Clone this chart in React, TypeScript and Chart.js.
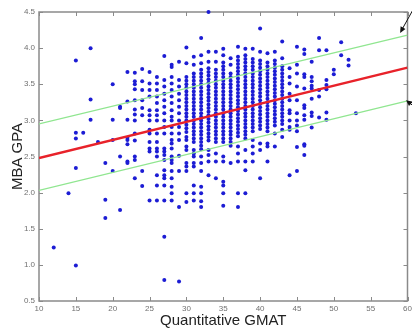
import React, { useEffect, useRef } from 'react';
import { Chart, registerables } from 'chart.js';

Chart.register(...registerables);

// Quantitative GMAT score columns and the MBA GPA values read in each column
const gmatColumns = [12, 14, 15, 16, 17, 18, 19, 20, 21, 22, 23, 24, 25, 26, 27, 28, 29, 30, 31, 32, 33, 34, 35, 36, 37, 38, 39, 40, 41, 42, 43, 44, 45, 46, 47, 48, 49, 50, 51, 52, 53];
const gpaByColumn: number[][] = [
  [1.24],
  [1.99],
  [3.83, 2.83, 2.75, 2.34, 0.99],
  [2.83],
  [4.0, 3.29, 3.01],
  [2.7],
  [2.41, 1.9, 1.65],
  [3.5, 3.01, 2.73, 2.3],
  [3.19, 3.17, 2.5, 1.76],
  [3.67, 3.26, 3.01, 2.76, 2.73, 2.67, 2.43, 2.41],
  [3.66, 3.54, 3.5, 3.43, 3.28, 3.15, 3.08, 3.0, 2.82, 2.72, 2.5, 2.45, 2.2],
  [3.71, 3.54, 3.42, 3.28, 3.17, 3.07, 2.3, 2.09],
  [3.67, 3.51, 3.42, 3.33, 3.14, 3.07, 3.0, 2.87, 2.82, 2.7, 2.61, 2.57, 1.89],
  [3.6, 3.51, 3.42, 3.33, 3.24, 3.14, 3.07, 3.0, 2.82, 2.7, 2.61, 2.57, 2.5, 2.24, 2.1, 1.89],
  [3.89, 3.56, 3.47, 3.37, 3.28, 3.19, 3.1, 3.0, 2.91, 2.82, 2.61, 2.57, 2.52, 2.45, 2.31, 2.24, 2.2, 2.1, 1.89, 1.39, 0.79],
  [3.77, 3.74, 3.6, 3.51, 3.42, 3.33, 3.24, 3.14, 3.05, 3.0, 2.91, 2.82, 2.73, 2.68, 2.61, 2.5, 2.45, 2.41, 2.3, 2.2, 2.08, 1.99, 1.89],
  [3.81, 3.56, 3.47, 3.37, 3.28, 3.19, 3.1, 3.0, 2.91, 2.82, 2.73, 2.51, 2.3, 1.8, 0.77],
  [4.01, 3.79, 3.6, 3.55, 3.5, 3.45, 3.4, 3.35, 3.3, 3.25, 3.2, 3.15, 3.1, 3.05, 3.0, 2.94, 2.89, 2.84, 2.77, 2.73, 2.64, 2.59, 2.41, 2.36, 2.3, 1.99, 1.87],
  [3.88, 3.77, 3.65, 3.6, 3.55, 3.5, 3.45, 3.4, 3.35, 3.3, 3.25, 3.2, 3.15, 3.1, 3.05, 3.0, 2.95, 2.9, 2.85, 2.8, 2.75, 2.7, 2.59, 2.54, 2.5, 2.41, 2.36, 2.1, 1.99, 1.89],
  [4.14, 3.9, 3.79, 3.7, 3.65, 3.6, 3.55, 3.5, 3.45, 3.4, 3.35, 3.3, 3.25, 3.2, 3.15, 3.1, 3.05, 3.0, 2.95, 2.9, 2.85, 2.8, 2.75, 2.7, 2.65, 2.6, 2.5, 2.41, 2.3, 2.08, 1.99, 1.88, 1.8],
  [4.5, 3.95, 3.81, 3.72, 3.67, 3.62, 3.57, 3.52, 3.47, 3.42, 3.37, 3.32, 3.27, 3.22, 3.17, 3.12, 3.07, 3.02, 2.97, 2.92, 2.87, 2.82, 2.77, 2.72, 2.59, 2.52, 2.43, 2.24],
  [3.95, 3.81, 3.7, 3.65, 3.6, 3.55, 3.5, 3.45, 3.4, 3.35, 3.3, 3.25, 3.2, 3.15, 3.1, 3.05, 3.0, 2.95, 2.9, 2.85, 2.8, 2.75, 2.7, 2.54, 2.43, 2.2],
  [3.99, 3.9, 3.8, 3.75, 3.7, 3.65, 3.6, 3.55, 3.5, 3.45, 3.4, 3.35, 3.3, 3.25, 3.2, 3.15, 3.1, 3.05, 3.0, 2.95, 2.9, 2.85, 2.8, 2.75, 2.7, 2.5, 2.43, 2.15, 2.1, 1.99, 1.82],
  [3.86, 3.77, 3.65, 3.6, 3.55, 3.5, 3.45, 3.4, 3.35, 3.3, 3.25, 3.2, 3.15, 3.1, 3.05, 3.0, 2.95, 2.9, 2.85, 2.8, 2.75, 2.7, 2.65, 2.41],
  [4.02, 3.88, 3.83, 3.78, 3.73, 3.68, 3.63, 3.58, 3.53, 3.48, 3.43, 3.38, 3.33, 3.28, 3.23, 3.18, 3.13, 3.08, 3.03, 2.98, 2.93, 2.88, 2.83, 2.78, 2.64, 2.54, 2.43, 1.99, 1.8],
  [3.99, 3.9, 3.85, 3.8, 3.75, 3.7, 3.65, 3.6, 3.55, 3.5, 3.45, 3.4, 3.35, 3.3, 3.25, 3.2, 3.15, 3.1, 3.05, 3.0, 2.95, 2.9, 2.85, 2.8, 2.75, 2.59, 2.43, 2.31, 1.99],
  [3.99, 3.85, 3.8, 3.75, 3.7, 3.65, 3.6, 3.55, 3.5, 3.45, 3.4, 3.35, 3.3, 3.25, 3.2, 3.15, 3.1, 3.05, 3.0, 2.95, 2.9, 2.85, 2.73, 2.64, 2.54, 2.43],
  [4.27, 3.95, 3.83, 3.78, 3.73, 3.68, 3.63, 3.58, 3.53, 3.48, 3.43, 3.38, 3.33, 3.28, 3.23, 3.18, 3.13, 3.08, 3.03, 2.98, 2.93, 2.88, 2.68, 2.59, 2.2],
  [3.93, 3.8, 3.75, 3.7, 3.65, 3.6, 3.55, 3.5, 3.45, 3.4, 3.35, 3.3, 3.25, 3.2, 3.15, 3.1, 3.05, 3.0, 2.95, 2.9, 2.85, 2.68, 2.64, 2.43],
  [3.95, 3.83, 3.78, 3.73, 3.68, 3.63, 3.58, 3.53, 3.48, 3.43, 3.38, 3.33, 3.28, 3.23, 3.18, 3.13, 3.08, 3.03, 2.98, 2.93, 2.82, 2.64],
  [4.09, 3.86, 3.75, 3.7, 3.65, 3.6, 3.55, 3.5, 3.45, 3.4, 3.35, 3.3, 3.25, 3.2, 3.15, 3.1, 3.05, 3.0, 2.95, 2.87, 2.77],
  [3.72, 3.6, 3.51, 3.37, 3.28, 3.14, 3.1, 3.0, 2.91, 2.87, 2.24],
  [4.02, 3.77, 3.65, 3.47, 3.28, 3.1, 3.0, 2.93, 2.85, 2.63, 2.3],
  [3.98, 3.92, 3.64, 3.6, 3.44, 3.21, 3.17, 3.07, 3.01, 2.67, 2.65, 2.52],
  [3.81, 3.6, 3.54, 3.48, 3.44, 3.3, 3.11, 3.06, 2.9],
  [4.14, 3.97, 3.42, 3.33, 3.04],
  [3.97, 3.56, 3.49, 3.43, 3.11, 3.01],
  [3.7, 3.64],
  [4.08, 3.9],
  [3.84, 3.76],
  [3.1],
];

// Regression line and prediction band end points
const lineGmat = [10, 60];
const fitGpa = [2.48, 3.73];
const upperGpa = [2.95, 4.18];
const lowerGpa = [2.03, 3.27];

const xTicks = [10, 15, 20, 25, 30, 35, 40, 45, 50, 55, 60];
const yTicks = [0.5, 1, 1.5, 2, 2.5, 3, 3.5, 4, 4.5];

const lerp = (arr: number[], g: number) =>
  arr[0] + ((arr[1] - arr[0]) * (g - lineGmat[0])) / (lineGmat[1] - lineGmat[0]);

function drawArrow(ctx: CanvasRenderingContext2D, tx: number, ty: number, fx: number, fy: number) {
  const ang = Math.atan2(ty - fy, tx - fx);
  const len = 6;
  const hw = 2.8;
  ctx.beginPath();
  ctx.moveTo(fx, fy);
  ctx.lineTo(tx - Math.cos(ang) * len * 0.8, ty - Math.sin(ang) * len * 0.8);
  ctx.stroke();
  ctx.beginPath();
  ctx.moveTo(tx, ty);
  ctx.lineTo(tx - Math.cos(ang) * len - Math.sin(ang) * hw, ty - Math.sin(ang) * len + Math.cos(ang) * hw);
  ctx.lineTo(tx - Math.cos(ang) * len + Math.sin(ang) * hw, ty - Math.sin(ang) * len - Math.cos(ang) * hw);
  ctx.closePath();
  ctx.fill();
}

const framePlugin = {
  id: 'matlabFrame',
  beforeDatasetsDraw(chart: any) {
    const { ctx, chartArea: a, scales } = chart;
    const x = scales.x;
    const y = scales.y;
    ctx.save();
    ctx.strokeStyle = '#8a8a8a';
    ctx.lineWidth = 1.5;
    ctx.strokeRect(a.left, a.top, a.right - a.left, a.bottom - a.top);
    ctx.lineWidth = 1;
    ctx.beginPath();
    for (const t of xTicks) {
      const px = Math.round(x.getPixelForValue(t)) + 0.5;
      ctx.moveTo(px, a.bottom);
      ctx.lineTo(px, a.bottom - 4);
      ctx.moveTo(px, a.top);
      ctx.lineTo(px, a.top + 4);
    }
    for (const t of yTicks) {
      const py = Math.round(y.getPixelForValue(t)) + 0.5;
      ctx.moveTo(a.left, py);
      ctx.lineTo(a.left + 4, py);
      ctx.moveTo(a.right, py);
      ctx.lineTo(a.right - 4, py);
    }
    ctx.stroke();
    ctx.restore();
  },
  afterDraw(chart: any) {
    const { ctx, scales } = chart;
    const x = scales.x;
    const y = scales.y;
    ctx.save();
    ctx.strokeStyle = '#111';
    ctx.fillStyle = '#111';
    ctx.lineWidth = 1;
    const t1x = x.getPixelForValue(59);
    const t1y = y.getPixelForValue(lerp(upperGpa, 59)) - 4;
    drawArrow(ctx, t1x, t1y, t1x + 15, t1y - 27);
    const t2x = x.getPixelForValue(59.8);
    const t2y = y.getPixelForValue(lerp(lowerGpa, 59.8)) - 1;
    drawArrow(ctx, t2x, t2y, t2x + 9, t2y + 7);
    ctx.restore();
  },
};

export default function App() {
  const ref = useRef<HTMLCanvasElement | null>(null);

  useEffect(() => {
    if (!ref.current) return;
    const points = gmatColumns.flatMap((g, i) => gpaByColumn[i].map((v) => ({ x: g, y: v })));
    const mk = (arr: number[]) => lineGmat.map((g, i) => ({ x: g, y: arr[i] }));
    const chart = new Chart(ref.current, {
      type: 'scatter',
      data: {
        datasets: [
          {
            type: 'line',
            data: mk(fitGpa),
            borderColor: '#e8222a',
            borderWidth: 2.5,
            pointRadius: 0,
            fill: false,
          } as any,
          {
            type: 'line',
            data: mk(upperGpa),
            borderColor: '#90e690',
            borderWidth: 1.3,
            pointRadius: 0,
            fill: false,
          } as any,
          {
            type: 'line',
            data: mk(lowerGpa),
            borderColor: '#90e690',
            borderWidth: 1.3,
            pointRadius: 0,
            fill: false,
          } as any,
          {
            data: points,
            backgroundColor: '#1c1cd4',
            borderWidth: 0,
            pointRadius: 2,
            clip: false,
          } as any,
        ],
      },
      options: {
        animation: false,
        responsive: false,
        events: [],
        layout: { padding: { left: 0, top: 12, right: 4.5, bottom: 0 } },
        plugins: { legend: { display: false }, tooltip: { enabled: false } },
        scales: {
          x: {
            type: 'linear',
            min: 10,
            max: 60,
            grid: { display: false, drawTicks: false },
            border: { display: false },
            afterBuildTicks: (s: any) => {
              s.ticks = xTicks.map((v) => ({ value: v }));
            },
            ticks: {
              autoSkip: false,
              maxRotation: 0,
              padding: 3,
              color: '#707070',
              font: { family: 'Liberation Sans, Arial, sans-serif', size: 8 },
            },
            title: {
              display: true,
              text: 'Quantitative GMAT',
              color: '#222',
              padding: { top: 0, bottom: 1 },
              font: { family: 'Liberation Sans, Arial, sans-serif', size: 15 },
            },
            afterFit: (s: any) => {
              s.height = 30;
              s.paddingLeft = 0;
              s.paddingRight = 0;
            },
          },
          y: {
            type: 'linear',
            min: 0.5,
            max: 4.5,
            grid: { display: false, drawTicks: false },
            border: { display: false },
            afterBuildTicks: (s: any) => {
              s.ticks = yTicks.map((v) => ({ value: v }));
            },
            ticks: {
              autoSkip: false,
              padding: 4,
              color: '#707070',
              font: { family: 'Liberation Sans, Arial, sans-serif', size: 8 },
            },
            title: {
              display: true,
              text: 'MBA GPA',
              color: '#222',
              padding: { top: 8.5, bottom: 0 },
              font: { family: 'Liberation Sans, Arial, sans-serif', size: 15 },
            },
            afterFit: (s: any) => {
              s.width = 39;
              s.paddingTop = 0;
              s.paddingBottom = 0;
            },
          },
        },
      },
      plugins: [framePlugin],
    });
    return () => chart.destroy();
  }, []);

  return (
    <div style={{ position: 'fixed', left: 0, top: 0, width: 412, height: 331, background: '#fff' }}>
      <canvas ref={ref} width={412} height={331} style={{ width: 412, height: 331, display: 'block' }} />
    </div>
  );
}
